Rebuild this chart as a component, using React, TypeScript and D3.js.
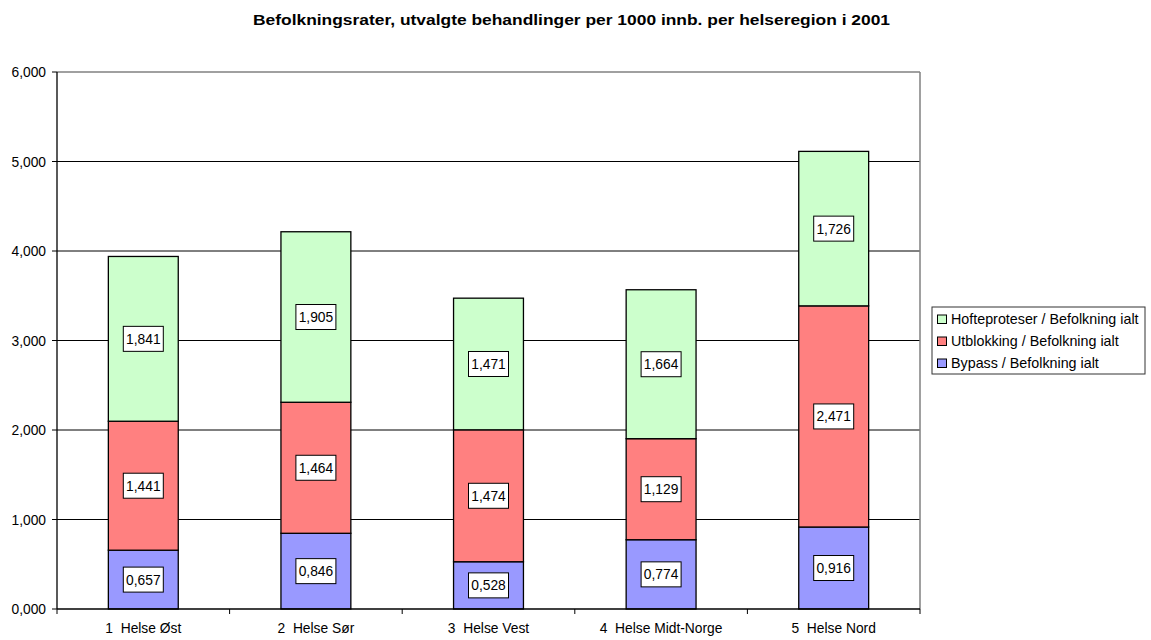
import React from "react";
import * as d3 from "d3";

const categories = ["1  Helse Øst", "2  Helse Sør", "3  Helse Vest", "4  Helse Midt-Norge", "5  Helse Nord"];
const bypass = [0.657, 0.846, 0.528, 0.774, 0.916];
const utblokking = [1.441, 1.464, 1.474, 1.129, 2.471];
const hofte = [1.841, 1.905, 1.471, 1.664, 1.726];
const yTicks = [0, 1, 2, 3, 4, 5, 6];
const seriesNames = ["Bypass / Befolkning ialt", "Utblokking / Befolkning ialt", "Hofteproteser / Befolkning ialt"];
const seriesColors = ["#9999FF", "#FF8080", "#CCFFCC"];

const W = 1151, H = 640;
const M = { left: 57, right: 920, top: 72, bottom: 609 };
const font = "'Liberation Sans', Arial, sans-serif";
const fmt = (v: number) => v.toFixed(3).replace(".", ",");
const fmtAxis = (v: number) => v.toFixed(3).replace(".", ",");

export default function App() {
  const x = d3.scaleBand<string>().domain(categories).range([M.left, M.right]).paddingInner(0.595).paddingOuter(0.2975);
  const y = d3.scaleLinear().domain([0, 6]).range([M.bottom, M.top]);
  const data = categories.map((c, i) => ({ cat: c, Bypass: bypass[i], Utblokking: utblokking[i], Hofte: hofte[i] }));
  const stack = d3.stack<any>().keys(["Bypass", "Utblokking", "Hofte"])(data);
  const step = (M.right - M.left) / categories.length;

  return (
    <svg width={W} height={H} style={{ position: "absolute", left: 0, top: 0, fontFamily: font }}>
      <rect x={0} y={0} width={W} height={H} fill="#fff" />
      <text x={253} y={25} fontSize={15} fontWeight="bold" textLength={637} lengthAdjust="spacingAndGlyphs">
        Befolkningsrater, utvalgte behandlinger per 1000 innb. per helseregion i 2001
      </text>
      {yTicks.map((t) => (
        <g key={t}>
          {t > 0 && t < 6 && <line x1={M.left} x2={M.right} y1={y(t)} y2={y(t)} stroke="#000" strokeWidth={1} />}
          <line x1={M.left - 5} x2={M.left} y1={y(t)} y2={y(t)} stroke="#000" />
          <text x={M.left - 11} y={y(t) + 5} textAnchor="end" fontSize={13.8}>{fmtAxis(t)}</text>
        </g>
      ))}
      <line x1={M.left} x2={M.right} y1={M.top} y2={M.top} stroke="#808080" strokeWidth={1.5} />
      <line x1={M.right} x2={M.right} y1={M.top} y2={M.bottom} stroke="#808080" strokeWidth={1.5} />
      {stack.map((s, si) =>
        s.map((d, i) => (
          <rect key={si + "-" + i} x={x(categories[i])} y={y(d[1])} width={x.bandwidth()} height={y(d[0]) - y(d[1])}
            fill={seriesColors[si]} stroke="#000" strokeWidth={1.3} />
        ))
      )}
      {stack.map((s, si) =>
        s.map((d, i) => {
          const cx = (x(categories[i]) as number) + x.bandwidth() / 2;
          const cy = (y(d[0]) + y(d[1])) / 2;
          const bw = 40, bh = 25;
          return (
            <g key={"l" + si + "-" + i}>
              <rect x={cx - bw / 2} y={cy - bh / 2} width={bw} height={bh} fill="#fff" stroke="#000" strokeWidth={1} />
              <text x={cx} y={cy + 5} textAnchor="middle" fontSize={13.8}>{fmt(d[1] - d[0])}</text>
            </g>
          );
        })
      )}
      <line x1={M.left} x2={M.left} y1={M.top} y2={M.bottom} stroke="#000" strokeWidth={1.3} />
      <line x1={M.left} x2={M.right} y1={M.bottom} y2={M.bottom} stroke="#000" strokeWidth={1.3} />
      {d3.range(categories.length + 1).map((i) => (
        <line key={"xt" + i} x1={M.left + i * step} x2={M.left + i * step} y1={M.bottom} y2={M.bottom + 5} stroke="#000" />
      ))}
      {categories.map((c) => (
        <text key={c} x={(x(c) as number) + x.bandwidth() / 2} y={633} textAnchor="middle" fontSize={13.8} style={{ whiteSpace: "pre" }}>{c}</text>
      ))}
      <rect x={932} y={307} width={213} height={67} fill="#fff" stroke="#333" strokeWidth={1} />
      {[2, 1, 0].map((si, k) => (
        <g key={"lg" + si}>
          <rect x={937.5} y={315 + k * 22} width={9} height={8.5} fill={seriesColors[si]} stroke="#000" strokeWidth={1} />
          <text x={951} y={323.5 + k * 22} fontSize={14.3}>{seriesNames[si]}</text>
        </g>
      ))}
    </svg>
  );
}
